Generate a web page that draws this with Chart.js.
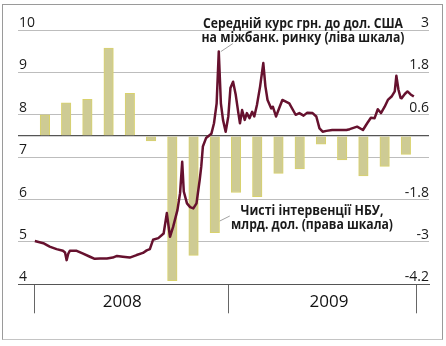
<!DOCTYPE html>
<html>
<head>
<meta charset="utf-8">
<script src="https://cdn.jsdelivr.net/npm/chart.js@4.4.1/dist/chart.umd.min.js"></script>
<style>
body { margin: 0; background: #fff; }
#wrap { position: relative; width: 446px; height: 346px; }
#frame { position: absolute; left: 2px; top: 4px; width: 439px; height: 334px; border: 1px solid #9a9a9a; border-bottom-color: #c4c4c4; pointer-events: none; }
canvas { position: absolute; left: 0; top: 0; }
</style>
</head>
<body>
<div id="wrap">
  <canvas id="chart" width="446" height="346"></canvas>
  <div id="frame"></div>
</div>
<script>
// NBU net interventions, bln USD, monthly Jan 2008 - Jun 2009 (right scale)
const months = ['2008-01', '2008-02', '2008-03', '2008-04', '2008-05', '2008-06',
    '2008-07', '2008-08', '2008-09', '2008-10', '2008-11', '2008-12',
    '2009-01', '2009-02', '2009-03', '2009-04', '2009-05', '2009-06'];
const interventions = [0.60, 0.94, 1.04, 2.49, 1.21, -0.14, -4.10, -3.38, -2.74,
    -1.60, -1.72, -1.06, -0.93, -0.23, -0.68, -1.13, -0.86, -0.52];

// average interbank UAH/USD rate (left scale)
const rateDates = ['2008-01-02', '2008-01-18', '2008-01-30', '2008-02-12', '2008-02-24', '2008-02-28',
    '2008-03-02', '2008-03-05', '2008-03-08', '2008-03-21', '2008-04-01', '2008-04-15', '2008-04-24',
    '2008-05-04', '2008-05-17', '2008-05-28', '2008-06-05', '2008-06-16', '2008-06-29', '2008-07-12',
    '2008-07-24', '2008-07-31', '2008-08-06', '2008-08-12', '2008-08-22', '2008-09-01', '2008-09-07',
    '2008-09-13', '2008-09-19', '2008-09-27', '2008-10-02', '2008-10-06', '2008-10-09', '2008-10-15',
    '2008-10-21', '2008-10-27', '2008-11-02', '2008-11-08', '2008-11-11', '2008-11-14', '2008-11-20',
    '2008-11-30', '2008-12-05', '2008-12-10', '2008-12-14', '2008-12-18', '2008-12-22', '2008-12-27',
    '2009-01-01', '2009-01-05', '2009-01-10', '2009-01-15', '2009-01-20', '2009-01-23', '2009-01-27',
    '2009-02-01', '2009-02-05', '2009-02-10', '2009-02-15', '2009-02-19', '2009-02-24', '2009-03-02',
    '2009-03-08', '2009-03-12', '2009-03-16', '2009-03-23', '2009-03-26', '2009-04-01', '2009-04-08',
    '2009-04-13', '2009-04-26', '2009-05-08', '2009-05-15', '2009-05-23', '2009-05-30', '2009-06-09',
    '2009-06-16', '2009-06-22', '2009-06-28', '2009-07-05', '2009-07-16', '2009-07-30', '2009-08-12',
    '2009-08-18', '2009-09-01', '2009-09-12', '2009-09-20', '2009-09-27', '2009-10-04', '2009-10-10',
    '2009-10-16', '2009-10-23', '2009-10-29', '2009-11-05', '2009-11-11', '2009-11-14', '2009-11-18',
    '2009-11-22', '2009-11-24', '2009-11-30', '2009-12-05', '2009-12-11', '2009-12-17'];
const rateValues = [5.02, 4.97, 4.89, 4.83, 4.79, 4.75,
    4.57, 4.72, 4.79, 4.79, 4.73, 4.65, 4.60,
    4.61, 4.61, 4.63, 4.67, 4.65, 4.63, 4.69,
    4.74, 4.80, 4.83, 5.05, 5.09, 5.20, 5.68,
    5.12, 5.36, 5.75, 6.15, 6.89, 6.19, 5.91,
    5.82, 5.79, 5.91, 6.46, 6.78, 7.25, 7.45,
    7.55, 7.80, 8.27, 9.49, 8.27, 7.88, 7.60,
    7.96, 8.63, 8.78, 8.47, 8.04, 7.80, 8.11,
    7.88, 8.04, 7.92, 8.07, 7.96, 8.23, 8.67,
    9.22, 8.67, 8.35, 8.15, 8.19, 7.96, 8.19,
    8.35, 8.27, 8.00, 8.04, 7.98, 8.05, 8.04,
    7.96, 7.68, 7.60, 7.62, 7.64, 7.64, 7.64,
    7.66, 7.72, 7.64, 7.80, 7.93, 7.92, 8.13,
    8.04, 8.19, 8.35, 8.43, 8.55, 8.92, 8.59,
    8.40, 8.39, 8.49, 8.55, 8.48, 8.43];

const leftTicks = [4, 5, 6, 7, 8, 9, 10];
const rightTicks = [3, 1.8, 0.6, 0, -1.8, -3, -4.2];
const years = ['2008', '2009'];
const yearBounds = ['2008-01-01', '2009-01-01', '2009-12-22'];
const yearLabelDates = ['2008-06-15', '2009-07-10'];

const day0 = Date.UTC(2008, 0, 1);
function toDay(s) {
    const p = s.split('-').map(Number);
    return (Date.UTC(p[0], p[1] - 1, p[2] || 1) - day0) / 86400000;
}

const bounds = yearBounds.map(toDay);
const span = bounds[bounds.length - 1];
// the monthly bars share the whole period evenly, as in the original
const barPoints = interventions.map((v, i) => ({ x: (i + 0.5) * span / interventions.length, y: v }));
const ratePoints = rateDates.map((d, i) => ({ x: toDay(d), y: rateValues[i] }));
const xTicks = [bounds[0], toDay(yearLabelDates[0]), bounds[1], toDay(yearLabelDates[1]), bounds[2]];

const labelPlugin = {
    id: 'notes',
    afterDatasetsDraw(chart) {
        const c = chart.ctx;
        const xs = chart.scales.x, ys = chart.scales.y;
        c.save();
        c.strokeStyle = '#8a8a8a';
        c.lineWidth = 0.8;

        // leader to the rate peak
        let iMax = 0;
        rateValues.forEach((v, i) => { if (v > rateValues[iMax]) iMax = i; });
        const px = xs.getPixelForValue(ratePoints[iMax].x);
        const py = ys.getPixelForValue(rateValues[iMax]);
        c.beginPath();
        c.moveTo(px + 2, py);
        c.lineTo(px + 14, py - 8);
        c.stroke();

        // leader to one of the intervention bars
        const bar = chart.getDatasetMeta(0).data[8];
        c.beginPath();
        c.moveTo(bar.x + 5, 221);
        c.lineTo(bar.x + 15, 216);
        c.stroke();

        c.fillStyle = '#1a1a1a';
        c.textAlign = 'center';
        c.textBaseline = 'alphabetic';
        c.font = 'bold 13.5px "Open Sans"';
        c.fillText('Середній курс грн. до дол. США', 303, 28, 200);
        c.fillText('на міжбанк. ринку (ліва шкала)', 303, 42, 203);
        c.fillText('Чисті інтервенції НБУ,', 312, 215, 143);
        c.fillText('млрд. дол. (права шкала)', 312, 229, 162);
        c.restore();
    }
};

new Chart(document.getElementById('chart'), {
    type: 'bar',
    data: {
        datasets: [{
            type: 'bar',
            label: 'Чисті інтервенції НБУ',
            data: barPoints,
            yAxisID: 'y1',
            backgroundColor: '#cecb94',
            borderColor: '#d9d26c',
            borderWidth: 1,
            barThickness: 9.5,
            order: 2
        }, {
            type: 'line',
            label: 'Середній курс',
            data: ratePoints,
            yAxisID: 'y',
            borderColor: '#66112e',
            borderWidth: 2.5,
            pointRadius: 0,
            tension: 0,
            borderJoinStyle: 'round',
            order: 1
        }]
    },
    options: {
        responsive: false,
        animation: false,
        layout: { padding: { left: 18, right: 17, top: 30, bottom: 21.7 } },
        plugins: { legend: { display: false }, tooltip: { enabled: false } },
        scales: {
            x: {
                type: 'linear',
                min: -30.75,
                max: 744.6,
                offset: false,
                afterBuildTicks: s => { s.ticks = xTicks.map(v => ({ value: v })); },
                afterFit: s => { s.height = 40; },
                grid: {
                    offset: false,
                    drawOnChartArea: false,
                    drawTicks: true,
                    tickLength: 29,
                    color: ctx => ctx.index % 2 === 0 ? '#666' : 'rgba(0,0,0,0)'
                },
                border: { display: true, color: '#555', width: 1 },
                ticks: {
                    autoSkip: false,
                    maxRotation: 0,
                    padding: -21.5,
                    color: '#111',
                    font: { family: 'Open Sans', size: 17 },
                    callback: (v, i) => i % 2 ? years[(i - 1) / 2] : ''
                }
            },
            y: {
                position: 'left',
                min: 4,
                max: 10,
                afterBuildTicks: s => { s.ticks = leftTicks.map(v => ({ value: v })); },
                afterFit: s => { s.width = 0; },
                grid: {
                    drawTicks: false,
                    color: ctx => ctx.tick && ctx.tick.value === 4 ? '#555' : '#bdbdbd'
                },
                border: { display: false },
                ticks: {
                    mirror: true,
                    padding: 1,
                    labelOffset: -7,
                    color: '#1a1a1a',
                    font: { family: 'Open Sans', size: 14 },
                    callback: v => String(v)
                }
            },
            y1: {
                position: 'right',
                min: -4.2,
                max: 3,
                afterBuildTicks: s => { s.ticks = rightTicks.map(v => ({ value: v })); },
                afterFit: s => { s.width = 0; },
                grid: {
                    drawTicks: false,
                    lineWidth: 1.2,
                    color: ctx => ctx.tick && ctx.tick.value === 0 ? '#555' : 'rgba(0,0,0,0)'
                },
                border: { display: false },
                ticks: {
                    mirror: true,
                    padding: 0,
                    labelOffset: -7,
                    color: '#1a1a1a',
                    font: { family: 'Open Sans', size: 14 },
                    callback: v => v === 0 ? '' : String(v)
                }
            }
        }
    },
    plugins: [labelPlugin]
});
</script>
</body>
</html>
